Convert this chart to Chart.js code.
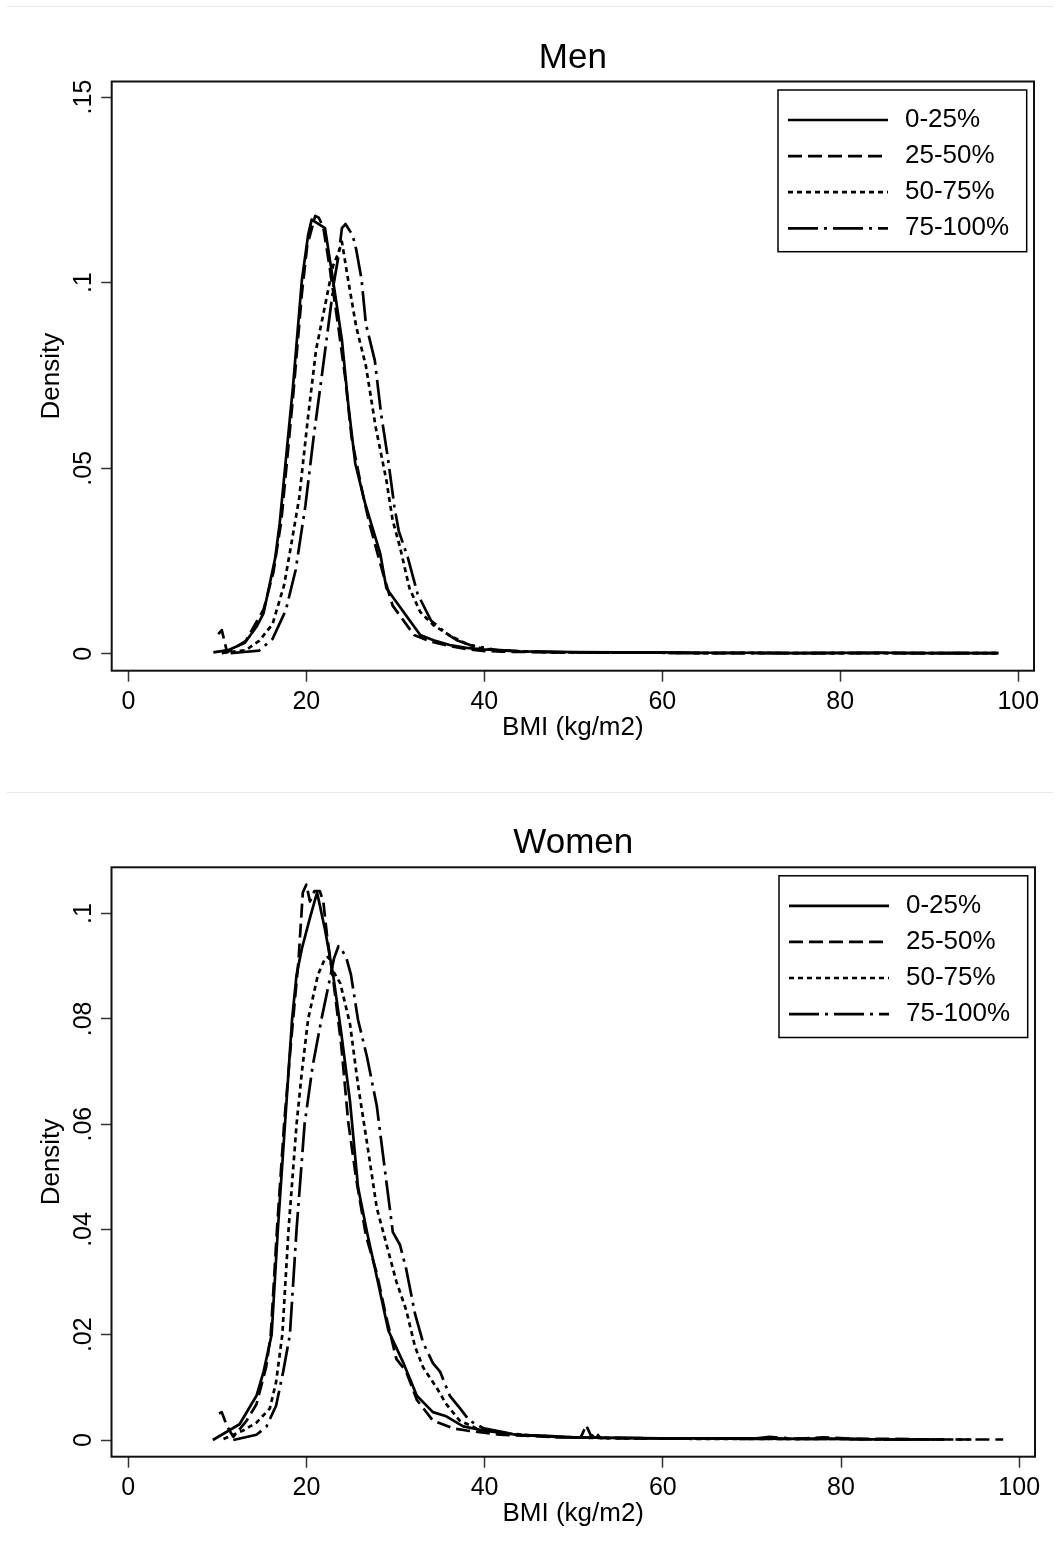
<!DOCTYPE html>
<html>
<head>
<meta charset="utf-8">
<title>BMI density by group</title>
<script src="https://cdn.jsdelivr.net/npm/chart.js@4.4.1/dist/chart.umd.min.js"></script>
<style>
  html, body { margin: 0; padding: 0; background: #fff; }
  body { width: 1060px; height: 1557px; position: relative; overflow: hidden; }
  canvas { position: absolute; left: 0; }
  .rule { position: absolute; left: 7px; width: 1046px; height: 1px; background: #e9e9e9; }
</style>
</head>
<body>
<div class="rule" style="top:6px"></div>
<canvas id="men" width="1060" height="790" style="top:0;width:1060px;height:790px"></canvas>
<div class="rule" style="top:792px"></div>
<canvas id="women" width="1060" height="764" style="top:793px;width:1060px;height:764px"></canvas>
<script>
// ---- labels and ticks ----
const groupLabels = ['0-25%', '25-50%', '50-75%', '75-100%'];
const bmiTicks = [0, 20, 40, 60, 80, 100];
const menDensityTicks = [0, 0.05, 0.1, 0.15];
const womenDensityTicks = [0, 0.02, 0.04, 0.06, 0.08, 0.1];

// ---- Men: kernel density of BMI, by group ----
const menQ1Bmi = [9.55, 11.2, 13.1, 14.4, 15.2, 16.5, 17.0, 18.5, 19.5, 20.2, 20.6, 22.1, 23.0, 24.0, 24.7, 25.5, 26.6, 28.3, 29.0, 32.8, 34.5, 36.1, 38.0, 39.8, 41.8, 44, 47, 50, 55, 60, 65, 70, 75, 80, 85, 90, 94, 97.8];
const menQ1Density = [0.0004, 0.001, 0.003, 0.0073, 0.011, 0.0258, 0.035, 0.072, 0.1007, 0.1128, 0.117, 0.1147, 0.1007, 0.0846, 0.0675, 0.0513, 0.0406, 0.0271, 0.0177, 0.0051, 0.0035, 0.0024, 0.0016, 0.0012, 0.001, 0.0007, 0.0006, 0.0005, 0.0004, 0.0004, 0.0003, 0.0003, 0.0002, 0.0003, 0.0003, 0.0002, 0.0002, 0.0002];

const menQ2Bmi = [10.1, 10.5, 11.1, 13.2, 15.2, 16.3, 17.2, 18.5, 19.5, 20.1, 21.0, 21.4, 21.9, 22.6, 23.6, 24.4, 25.1, 26.4, 27.1, 28.6, 29.7, 32.1, 34.0, 36.1, 38.0, 39.8, 42, 45, 48, 52, 56, 60, 65, 70, 75, 80, 85, 88, 92, 95, 97.5];
const menQ2Density = [0.0053, 0.0064, 0.0004, 0.0035, 0.012, 0.022, 0.036, 0.069, 0.097, 0.110, 0.118, 0.1175, 0.115, 0.1045, 0.088, 0.0738, 0.058, 0.0424, 0.035, 0.0218, 0.013, 0.0051, 0.0033, 0.0021, 0.0013, 0.0008, 0.0006, 0.0005, 0.0004, 0.0004, 0.0003, 0.0003, 0.0002, 0.0002, 0.0002, 0.0002, 0.0003, 0.0002, 0.0002, 0.0002, 0.0002];

const menQ3Bmi = [10.5, 13.2, 14.7, 16.2, 17.5, 18.2, 19.2, 20.2, 21.1, 22.2, 23.0, 23.6, 24.0, 24.7, 25.6, 26.7, 27.8, 29.0, 29.7, 30.5, 31.6, 32.8, 34.3, 36.1, 38.0, 39.8, 42, 45, 48, 52, 56, 60, 65, 70, 75, 80, 85, 90, 94, 97.6];
const menQ3Density = [0.0002, 0.001, 0.0035, 0.008, 0.0185, 0.028, 0.042, 0.064, 0.082, 0.095, 0.1045, 0.108, 0.111, 0.1007, 0.0882, 0.0775, 0.061, 0.0467, 0.036, 0.029, 0.0176, 0.0113, 0.0077, 0.005, 0.0027, 0.0014, 0.0009, 0.0006, 0.0004, 0.0004, 0.0003, 0.0003, 0.0002, 0.0003, 0.0002, 0.0002, 0.0002, 0.0002, 0.0002, 0.0002];

const menQ4Bmi = [11.5, 13.0, 14.7, 16.2, 17.7, 18.8, 19.9, 20.8, 21.8, 22.5, 23.1, 23.6, 24.0, 24.4, 25.2, 25.6, 26.2, 26.7, 27.7, 28.4, 29.2, 29.9, 30.4, 31.4, 32.5, 34.0, 35.8, 36.9, 38.4, 41.4, 44, 47, 50, 55, 60, 65, 70, 75, 80, 85, 90, 94, 97.7];
const menQ4Density = [0.0002, 0.0005, 0.0009, 0.004, 0.0118, 0.0226, 0.040, 0.058, 0.076, 0.0888, 0.1, 0.107, 0.1147, 0.1158, 0.1128, 0.109, 0.101, 0.0888, 0.079, 0.0647, 0.0522, 0.0396, 0.033, 0.026, 0.0162, 0.009, 0.0054, 0.0037, 0.0024, 0.001, 0.0007, 0.0005, 0.0004, 0.0003, 0.0003, 0.0002, 0.0002, 0.0002, 0.0002, 0.0002, 0.0002, 0.0002, 0.0002];

// ---- Women: kernel density of BMI, by group ----
const womenQ1Bmi = [9.5, 12.5, 14.4, 15.2, 16.1, 16.8, 17.6, 18.4, 18.9, 19.5, 20.4, 21.2, 22.1, 23.0, 23.9, 24.9, 25.8, 26.8, 27.9, 29.2, 30.9, 32.4, 34.2, 35.7, 37.6, 39.9, 43.6, 47, 50, 55, 60, 65, 70, 75, 80, 85, 91.5];
const womenQ1Density = [0.0, 0.003, 0.0084, 0.013, 0.020, 0.040, 0.060, 0.080, 0.0884, 0.0934, 0.0992, 0.104, 0.0969, 0.0884, 0.0775, 0.0643, 0.048, 0.0395, 0.031, 0.0208, 0.0146, 0.0084, 0.0053, 0.0045, 0.0026, 0.0018, 0.001, 0.0008, 0.0005, 0.0004, 0.0003, 0.0003, 0.0003, 0.0002, 0.0002, 0.0001, 0.0001];

const womenQ2Bmi = [10.2, 10.5, 11.1, 11.8, 13.3, 14.4, 15.5, 16.0, 16.7, 17.5, 18.3, 19.1, 19.6, 20.0, 20.4, 20.9, 21.5, 21.9, 22.3, 23.0, 23.9, 24.7, 25.6, 26.7, 27.9, 29.0, 30.1, 31.2, 32.4, 34.2, 36.5, 38.0, 41.7, 45, 48, 50.8, 51.4, 52.0, 52.4, 53, 56, 60, 65, 70, 75, 78, 82, 86, 90, 94, 98.2];
const womenQ2Density = [0.005, 0.0053, 0.0026, 0.0006, 0.0037, 0.0068, 0.014, 0.020, 0.040, 0.060, 0.076, 0.0907, 0.104, 0.1055, 0.1023, 0.1043, 0.1043, 0.1023, 0.0961, 0.0876, 0.0752, 0.0604, 0.0495, 0.0387, 0.0317, 0.0231, 0.0154, 0.013, 0.0076, 0.0037, 0.0022, 0.0018, 0.001, 0.0008, 0.0005, 0.0005, 0.0028, 0.0006, 0.0015, 0.0004, 0.0003, 0.0003, 0.0003, 0.0002, 0.0002, 0.0005, 0.0002, 0.0002, 0.0001, 0.0001, 0.0001];

const womenQ3Bmi = [10.7, 12.9, 14.4, 15.9, 16.6, 17.3, 18.0, 18.9, 19.5, 20.2, 21.3, 22.1, 22.5, 23.0, 23.8, 24.9, 25.8, 26.8, 27.9, 29.0, 30.1, 31.2, 32.2, 33.1, 34.6, 35.7, 37.2, 39.1, 41.7, 45, 48, 52, 56, 60, 65, 70, 75, 80, 85, 90, 95];
const womenQ3Density = [0.0002, 0.0018, 0.0033, 0.006, 0.011, 0.020, 0.040, 0.060, 0.070, 0.080, 0.0884, 0.0915, 0.0918, 0.0891, 0.0868, 0.079, 0.0674, 0.0565, 0.0441, 0.0371, 0.0301, 0.0247, 0.0177, 0.0138, 0.01, 0.0068, 0.0037, 0.0022, 0.0014, 0.0009, 0.0006, 0.0004, 0.0003, 0.0003, 0.0002, 0.0002, 0.0002, 0.0002, 0.0001, 0.0001, 0.0001];

const womenQ4Bmi = [11.8, 14.4, 15.5, 16.6, 17.4, 18.15, 18.9, 19.8, 20.7, 21.7, 22.5, 23.1, 23.6, 23.9, 24.5, 25.0, 25.8, 26.8, 27.9, 29.0, 29.7, 30.5, 31.2, 32.2, 33.1, 34.2, 35.0, 36.1, 37.2, 38.3, 39.9, 43.6, 47, 50, 55, 60, 65, 70, 72, 75, 80, 85, 90];
const womenQ4Density = [0.0, 0.001, 0.0025, 0.0065, 0.013, 0.020, 0.040, 0.060, 0.071, 0.080, 0.0865, 0.0915, 0.0938, 0.0934, 0.0915, 0.0884, 0.0798, 0.0728, 0.0635, 0.0488, 0.0395, 0.0371, 0.0325, 0.0239, 0.0185, 0.0146, 0.013, 0.0084, 0.0061, 0.0037, 0.0022, 0.001, 0.0007, 0.0005, 0.0004, 0.0003, 0.0003, 0.0002, 0.0006, 0.0002, 0.0002, 0.0001, 0.0001];

// ---- styling ----
const FONT = "'Liberation Sans', Arial, Helvetica, sans-serif";
const lineDashes = [[], [14, 6], [5, 4], [30, 6, 3, 6]];

function densityLabel(v) {
  if (v === 0) return '0';
  return String(+v.toFixed(3)).replace(/^0\./, '.');
}

function toPoints(xs, ys) {
  return xs.map((x, i) => ({ x: x, y: ys[i] }));
}

// Frame around the plot region
const plotFrame = {
  id: 'plotFrame',
  afterDatasetsDraw(chart) {
    const { ctx, chartArea: a } = chart;
    ctx.save();
    ctx.lineWidth = 2;
    ctx.strokeStyle = '#111';
    ctx.strokeRect(a.left, a.top, a.right - a.left, a.bottom - a.top);
    ctx.restore();
  }
};

// Boxed legend with line-style samples, top right of the plot region
const groupLegend = {
  id: 'groupLegend',
  afterDatasetsDraw(chart) {
    const { ctx, chartArea: a } = chart;
    const left = a.right - 256, top = a.top + 8.5, w = 248.7, h = 161.7;
    ctx.save();
    ctx.fillStyle = '#fff';
    ctx.fillRect(left, top, w, h);
    ctx.lineWidth = 1.5;
    ctx.strokeStyle = '#000';
    ctx.strokeRect(left, top, w, h);
    ctx.font = '26px ' + FONT;
    ctx.fillStyle = '#000';
    ctx.textBaseline = 'middle';
    ctx.textAlign = 'left';
    chart.data.datasets.forEach((ds, i) => {
      const y = top + 30 + i * 36.1;
      ctx.setLineDash(ds.borderDash || []);
      ctx.lineWidth = ds.borderWidth;
      ctx.strokeStyle = ds.borderColor;
      ctx.beginPath();
      ctx.moveTo(left + 10, y);
      ctx.lineTo(left + 110, y);
      ctx.stroke();
      ctx.setLineDash([]);
      ctx.fillText(ds.label, left + 127, y);
    });
    ctx.restore();
  }
};

function makePanel(canvasId, title, series, densityTicks, yMin, yMax, geo) {
  const datasets = series.map((s, i) => ({
    label: groupLabels[i],
    data: toPoints(s[0], s[1]),
    borderColor: '#000',
    borderWidth: 2.7,
    borderDash: lineDashes[i],
    borderCapStyle: 'butt',
    borderJoinStyle: 'round',
    pointRadius: 0,
    tension: 0,
    fill: false
  }));

  const tickGrid = (len) => ({
    drawOnChartArea: false,
    drawTicks: true,
    tickLength: len,
    tickColor: '#333',
    tickWidth: 1.5,
    color: '#333'
  });

  return new Chart(document.getElementById(canvasId), {
    type: 'line',
    data: { datasets: datasets },
    options: {
      responsive: false,
      animation: false,
      devicePixelRatio: 1,
      layout: { padding: { top: 0, left: 0, right: geo.padRight, bottom: geo.padBottom } },
      plugins: {
        legend: { display: false },
        tooltip: { enabled: false },
        title: {
          display: true,
          fullSize: false,
          text: title,
          color: '#000',
          font: { family: FONT, size: 35, weight: 'normal', lineHeight: 1.0 },
          padding: { top: geo.titleTop, bottom: geo.titleBottom }
        }
      },
      scales: {
        x: {
          type: 'linear',
          min: -1.87,
          max: 101.77,
          afterBuildTicks: (s) => { s.ticks = bmiTicks.map(v => ({ value: v })); },
          afterFit: (s) => { s.height = 80; },
          grid: tickGrid(11),
          border: { display: false },
          ticks: {
            color: '#000',
            font: { family: FONT, size: 25 },
            padding: 5.5,
            maxRotation: 0,
            autoSkip: false,
            callback: (v) => String(v)
          },
          title: {
            display: true,
            text: 'BMI (kg/m2)',
            color: '#000',
            font: { family: FONT, size: 26 },
            padding: { top: 0, bottom: 7.5 }
          }
        },
        y: {
          type: 'linear',
          min: yMin,
          max: yMax,
          afterBuildTicks: (s) => { s.ticks = densityTicks.map(v => ({ value: v })); },
          afterFit: (s) => { s.width = geo.yWidth; },
          grid: tickGrid(10.5),
          border: { display: false },
          ticks: {
            color: '#000',
            font: { family: FONT, size: 25 },
            padding: -0.5,
            minRotation: 90,
            maxRotation: 90,
            crossAlign: 'center',
            autoSkip: false,
            callback: (v) => densityLabel(v)
          },
          title: {
            display: true,
            text: 'Density',
            color: '#000',
            font: { family: FONT, size: 26 },
            padding: { top: 36.5, bottom: 0 }
          }
        }
      }
    },
    plugins: [plotFrame, groupLegend]
  });
}

makePanel('men', 'Men', [
  [menQ1Bmi, menQ1Density],
  [menQ2Bmi, menQ2Density],
  [menQ3Bmi, menQ3Density],
  [menQ4Bmi, menQ4Density]
], menDensityTicks, -0.00453, 0.1542,
  { padRight: 26, padBottom: 39.3, titleTop: 41, titleBottom: 5.5, yWidth: 111.7 });

makePanel('women', 'Women', [
  [womenQ1Bmi, womenQ1Density],
  [womenQ2Bmi, womenQ2Density],
  [womenQ3Bmi, womenQ3Density],
  [womenQ4Bmi, womenQ4Density]
], womenDensityTicks, -0.00317, 0.1088,
  { padRight: 25, padBottom: 20.3, titleTop: 32.5, titleBottom: 6.8, yWidth: 111.5 });
</script>
</body>
</html>
